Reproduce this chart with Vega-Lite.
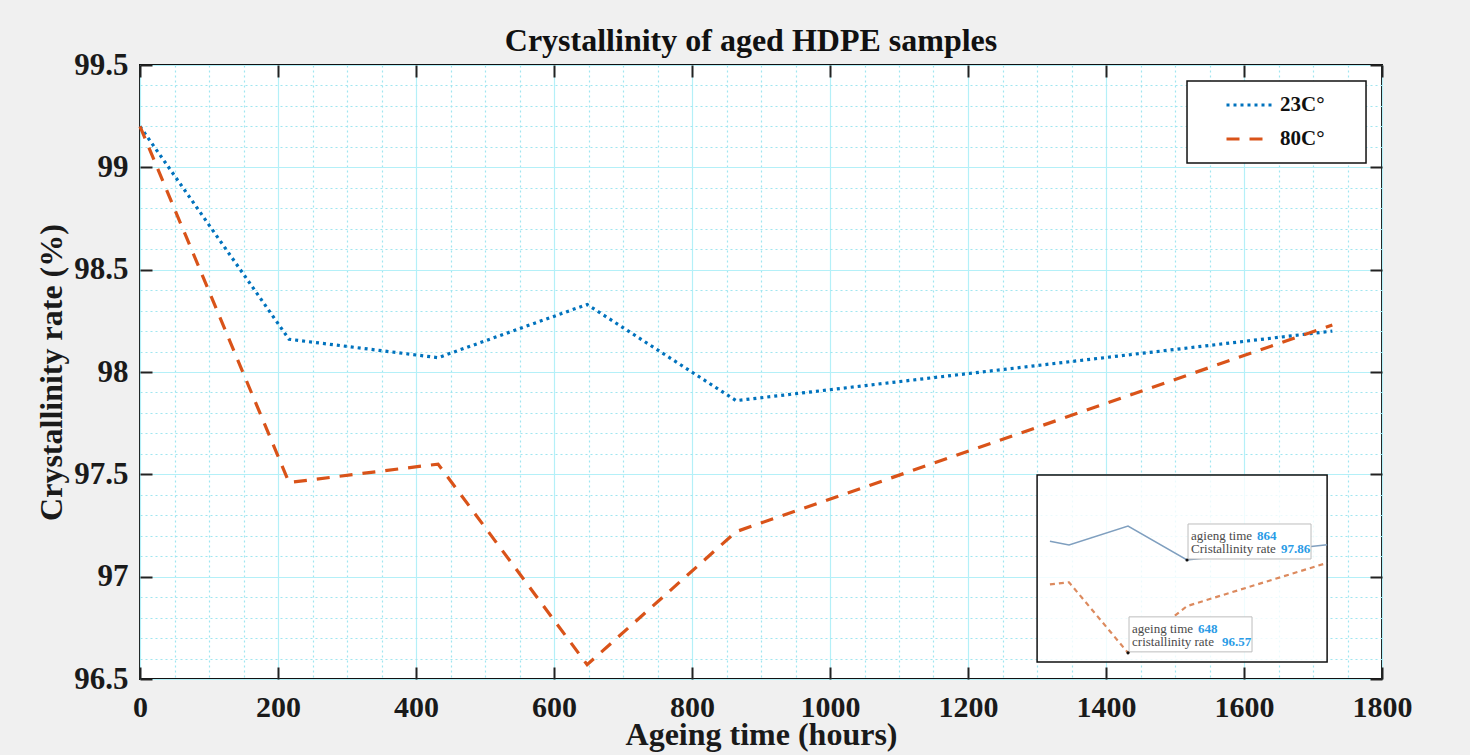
{
  "$schema": "https://vega.github.io/schema/vega-lite/v6.json",
  "width": 1242,
  "height": 614,
  "autosize": {"type": "none"},
  "padding": {"left": 140, "top": 65, "right": 88, "bottom": 76},
  "background": "#f0f0f0",
  "config": {
    "view": {"fill": "white", "stroke": "#111111", "strokeWidth": 2},
    "font": "Liberation Serif",
    "axis": {
      "labelFont": "Liberation Serif",
      "titleFont": "Liberation Serif",
      "labelFontWeight": "bold",
      "titleFontWeight": "bold",
      "labelColor": "#1a1a1a",
      "titleColor": "#1a1a1a",
      "domain": false,
      "tickColor": "#222222",
      "tickWidth": 2
    },
    "legend": {
      "orient": "none",
      "legendX": 1085,
      "legendY": 16,
      "padding": 0,
      "symbolType": "stroke",
      "symbolSize": 2025,
      "symbolStrokeWidth": 3,
      "symbolOffset": 0,
      "labelFont": "Liberation Serif",
      "labelFontWeight": "bold",
      "labelFontSize": 21,
      "labelColor": "#111111",
      "labelOffset": 7,
      "rowPadding": -8
    }
  },
  "title": {
    "text": "Crystallinity of aged HDPE samples",
    "font": "Liberation Serif",
    "fontSize": 32,
    "fontWeight": "bold",
    "color": "#111111",
    "offset": -9,
    "dx": -10,
    "anchor": "middle",
    "frame": "group"
  },
  "datasets": {
    "main": [
      {"series": "23C°", "t": 0, "v": 99.2},
      {"series": "23C°", "t": 216, "v": 98.16},
      {"series": "23C°", "t": 432, "v": 98.07},
      {"series": "23C°", "t": 648, "v": 98.33},
      {"series": "23C°", "t": 864, "v": 97.86},
      {"series": "23C°", "t": 1728, "v": 98.2},
      {"series": "80C°", "t": 0, "v": 99.2},
      {"series": "80C°", "t": 216, "v": 97.46},
      {"series": "80C°", "t": 432, "v": 97.55},
      {"series": "80C°", "t": 648, "v": 96.57},
      {"series": "80C°", "t": 864, "v": 97.22},
      {"series": "80C°", "t": 1728, "v": 98.23}
    ],
    "inset": [
      {"series": "23C°", "t": 362, "v": 98.12},
      {"series": "23C°", "t": 432, "v": 98.07},
      {"series": "23C°", "t": 648, "v": 98.33},
      {"series": "23C°", "t": 864, "v": 97.86},
      {"series": "23C°", "t": 1377, "v": 98.07},
      {"series": "80C°", "t": 362, "v": 97.52},
      {"series": "80C°", "t": 432, "v": 97.55},
      {"series": "80C°", "t": 648, "v": 96.57},
      {"series": "80C°", "t": 864, "v": 97.22},
      {"series": "80C°", "t": 1377, "v": 97.82}
    ],
    "tips": [
      {"t": 864, "v": 97.86, "lt": "agieng time", "lv": "Cristallinity rate"},
      {"t": 648, "v": 96.57, "lt": "ageing time", "lv": "cristallinity rate"}
    ]
  },
  "layer": [
    {
      "layer": [
        {
          "data": {"name": "main"},
          "mark": {"type": "line", "strokeWidth": 3.2},
          "encoding": {
            "x": {
              "field": "t",
              "type": "quantitative",
              "scale": {"domain": [0, 1800], "nice": false, "zero": false},
              "axis": {
                "orient": "bottom",
                "values": [0,50,100,150,200,250,300,350,400,450,500,550,600,650,700,750,800,850,900,950,1000,1050,1100,1150,1200,1250,1300,1350,1400,1450,1500,1550,1600,1650,1700,1750,1800],
                "format": "d",
                "labelExpr": "datum.value % 200 === 0 ? datum.label : ''",
                "labelFontSize": 30,
                "labelPadding": 25,
                "labelFlush": false,
                "labelOverlap": false,
                "labelBound": false,
                "tickSize": -12,
                "tickOpacity": {"condition": {"test": "datum.value % 200 === 0", "value": 1}, "value": 0},
                "grid": true,
                "gridColor": {"condition": {"test": "datum.value % 200 === 0", "value": "#b4f0f8"}, "value": "#a0e6f0"},
                "gridDash": {"condition": {"test": "datum.value % 200 === 0", "value": []}, "value": [2, 3]},
                "gridWidth": 1.2,
                "title": "Ageing time (hours)",
                "titleFontSize": 32,
                "titlePadding": -3
              }
            },
            "y": {
              "field": "v",
              "type": "quantitative",
              "scale": {"domain": [96.5, 99.5], "nice": false, "zero": false},
              "axis": {
                "orient": "left",
                "values": [96.5,96.6,96.7,96.8,96.9,97,97.1,97.2,97.3,97.4,97.5,97.6,97.7,97.8,97.9,98,98.1,98.2,98.3,98.4,98.5,98.6,98.7,98.8,98.9,99,99.1,99.2,99.3,99.4,99.5],
                "labelExpr": "abs(datum.value * 2 - round(datum.value * 2)) < 0.001 ? format(datum.value, '.1~f') : ''",
                "labelFontSize": 31,
                "labelPadding": 24,
                "labelOverlap": false,
                "labelBound": false,
                "labelFlush": false,
                "tickSize": -12,
                "tickOpacity": {"condition": {"test": "abs(datum.value * 2 - round(datum.value * 2)) < 0.001", "value": 1}, "value": 0},
                "grid": true,
                "gridColor": {"condition": {"test": "abs(datum.value * 2 - round(datum.value * 2)) < 0.001", "value": "#b4f0f8"}, "value": "#a0e6f0"},
                "gridDash": {"condition": {"test": "abs(datum.value * 2 - round(datum.value * 2)) < 0.001", "value": []}, "value": [2, 3]},
                "gridWidth": 1.2,
                "title": "Crystallinity rate (%)",
                "titleFontSize": 32,
                "titlePadding": 5
              }
            },
            "color": {
              "field": "series",
              "type": "nominal",
              "scale": {"domain": ["23C°", "80C°"], "range": ["#0072BD", "#D95319"]},
              "legend": {"title": null}
            },
            "strokeDash": {
              "field": "series",
              "type": "nominal",
              "scale": {"domain": ["23C°", "80C°"], "range": [[3, 4], [13, 10]]},
              "legend": {"title": null}
            }
          }
        },
        {
          "data": {"name": "main"},
          "mark": {"type": "line", "strokeOpacity": 0},
          "encoding": {
            "x": {
              "field": "t",
              "type": "quantitative",
              "axis": {
                "orient": "top",
                "values": [0,200,400,600,800,1000,1200,1400,1600,1800],
                "labels": false,
                "tickSize": -12,
                "grid": false,
                "title": null
              }
            },
            "y": {
              "field": "v",
              "type": "quantitative",
              "axis": {
                "orient": "right",
                "values": [96.5,97,97.5,98,98.5,99,99.5],
                "labels": false,
                "tickSize": -12,
                "grid": false,
                "title": null
              }
            }
          }
        }
      ],
      "resolve": {"axis": {"x": "independent", "y": "independent"}}
    },
    {
      "layer": [
        {
          "data": {"values": [{}]},
          "mark": {"type": "rect", "fill": "white", "stroke": "#111111", "strokeWidth": 1.5},
          "encoding": {
            "x": {"datum": 864, "type": "quantitative", "scale": {"domain": [-2970, 1578], "nice": false, "zero": false}, "axis": null},
            "x2": {"datum": 1519.5},
            "y": {"datum": 103.374, "type": "quantitative", "scale": {"domain": [96.207, 104.735], "nice": false, "zero": false}, "axis": null},
            "y2": {"datum": 104.513}
          }
        },
        {
          "data": {"values": [{}]},
          "mark": {"type": "rect", "fill": "white", "fillOpacity": 0.8, "stroke": "#111111", "strokeWidth": 1.5},
          "encoding": {
            "x": {"datum": 315, "type": "quantitative", "scale": {"domain": [-2970, 1578], "nice": false, "zero": false}, "axis": null},
            "x2": {"datum": 1377},
            "y": {"datum": 96.443, "type": "quantitative", "scale": {"domain": [96.207, 104.735], "nice": false, "zero": false}, "axis": null},
            "y2": {"datum": 99.04}
          }
        },
        {
          "data": {"name": "inset"},
          "transform": [{"filter": "datum.series === '23C°'"}],
          "mark": {"type": "line", "stroke": "#7f9fbf", "strokeWidth": 1.5},
          "encoding": {
            "x": {"field": "t", "type": "quantitative", "scale": {"domain": [-2970, 1578], "nice": false, "zero": false}, "axis": null},
            "y": {"field": "v", "type": "quantitative", "scale": {"domain": [96.207, 104.735], "nice": false, "zero": false}, "axis": null}
          }
        },
        {
          "data": {"name": "inset"},
          "transform": [{"filter": "datum.series === '80C°'"}],
          "mark": {"type": "line", "stroke": "#dc8a5e", "strokeWidth": 2.2, "strokeDash": [5, 4]},
          "encoding": {
            "x": {"field": "t", "type": "quantitative", "scale": {"domain": [-2970, 1578], "nice": false, "zero": false}, "axis": null},
            "y": {"field": "v", "type": "quantitative", "scale": {"domain": [96.207, 104.735], "nice": false, "zero": false}, "axis": null}
          }
        },
        {
          "data": {"name": "tips"},
          "mark": {"type": "rect", "fill": "white", "stroke": "#bdbdbd", "strokeWidth": 1, "xOffset": 1, "x2Offset": 124, "yOffset": -36, "y2Offset": -1},
          "encoding": {
            "x": {"field": "t", "type": "quantitative", "scale": {"domain": [-2970, 1578], "nice": false, "zero": false}, "axis": null},
            "x2": {"field": "t"},
            "y": {"field": "v", "type": "quantitative", "scale": {"domain": [96.207, 104.735], "nice": false, "zero": false}, "axis": null},
            "y2": {"field": "v"}
          }
        },
        {
          "data": {"name": "tips"},
          "mark": {"type": "point", "filled": true, "color": "#111111", "size": 10, "opacity": 1},
          "encoding": {
            "x": {"field": "t", "type": "quantitative", "scale": {"domain": [-2970, 1578], "nice": false, "zero": false}, "axis": null},
            "y": {"field": "v", "type": "quantitative", "scale": {"domain": [96.207, 104.735], "nice": false, "zero": false}, "axis": null}
          }
        },
        {
          "data": {"name": "tips"},
          "mark": {"type": "text", "align": "left", "baseline": "alphabetic", "dx": 4, "dy": -20, "font": "Liberation Serif", "fontSize": 13, "color": "#4a4a4a"},
          "encoding": {
            "x": {"field": "t", "type": "quantitative", "scale": {"domain": [-2970, 1578], "nice": false, "zero": false}, "axis": null},
            "y": {"field": "v", "type": "quantitative", "scale": {"domain": [96.207, 104.735], "nice": false, "zero": false}, "axis": null},
            "text": {"field": "lt"}
          }
        },
        {
          "data": {"name": "tips"},
          "mark": {"type": "text", "align": "left", "baseline": "alphabetic", "dx": 4, "dy": -7, "font": "Liberation Serif", "fontSize": 13, "color": "#4a4a4a"},
          "encoding": {
            "x": {"field": "t", "type": "quantitative", "scale": {"domain": [-2970, 1578], "nice": false, "zero": false}, "axis": null},
            "y": {"field": "v", "type": "quantitative", "scale": {"domain": [96.207, 104.735], "nice": false, "zero": false}, "axis": null},
            "text": {"field": "lv"}
          }
        },
        {
          "data": {"name": "tips"},
          "mark": {"type": "text", "align": "left", "baseline": "alphabetic", "dx": 70, "dy": -20, "font": "Liberation Serif", "fontSize": 13, "fontWeight": "bold", "color": "#2a9be6"},
          "encoding": {
            "x": {"field": "t", "type": "quantitative", "scale": {"domain": [-2970, 1578], "nice": false, "zero": false}, "axis": null},
            "y": {"field": "v", "type": "quantitative", "scale": {"domain": [96.207, 104.735], "nice": false, "zero": false}, "axis": null},
            "text": {"field": "t", "type": "quantitative", "format": "d"}
          }
        },
        {
          "data": {"name": "tips"},
          "mark": {"type": "text", "align": "left", "baseline": "alphabetic", "dx": 94, "dy": -7, "font": "Liberation Serif", "fontSize": 13, "fontWeight": "bold", "color": "#2a9be6"},
          "encoding": {
            "x": {"field": "t", "type": "quantitative", "scale": {"domain": [-2970, 1578], "nice": false, "zero": false}, "axis": null},
            "y": {"field": "v", "type": "quantitative", "scale": {"domain": [96.207, 104.735], "nice": false, "zero": false}, "axis": null},
            "text": {"field": "v", "type": "quantitative", "format": ".2f"}
          }
        }
      ]
    }
  ],
  "resolve": {"scale": {"x": "independent", "y": "independent"}}
}
